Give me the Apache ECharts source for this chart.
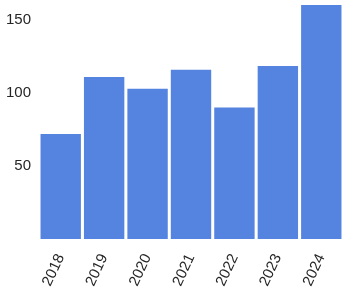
<!DOCTYPE html>
<html><head><meta charset="utf-8">
<script src="https://cdn.jsdelivr.net/npm/echarts@6/dist/echarts.min.js"></script>
<style>html,body{margin:0;padding:0;background:#fff}#c{width:347px;height:293px}</style>
</head><body><div id="c"></div>
<script>
const categories = ['2018','2019','2020','2021','2022','2023','2024'];
const values = [72, 111, 103, 116, 90, 118.5, 160.3];
const yTicks = [50, 100, 150];

const chart = echarts.init(document.getElementById('c'), null, {renderer:'canvas'});
chart.setOption({
  animation:false,
  grid:{left:39, right:4, top:5, bottom:54, containLabel:false},
  xAxis:{type:'category', data:categories,
    axisLine:{show:false}, axisTick:{show:false},
    axisLabel:{rotate:65, fontSize:15, color:'#262626', fontFamily:'Liberation Sans', margin:16}},
  yAxis:{type:'value', min:0, max:160.3, interval:50,
    splitLine:{show:false}, axisLine:{show:false}, axisTick:{show:false},
    axisLabel:{fontSize:15, color:'#262626', fontFamily:'Liberation Sans', margin:8,
      formatter:v => yTicks.includes(v) ? String(v) : ''}},
  series:[{type:'bar', data:values, barCategoryGap:'7%', itemStyle:{color:'#5584E0'}}]
});
</script></body></html>
